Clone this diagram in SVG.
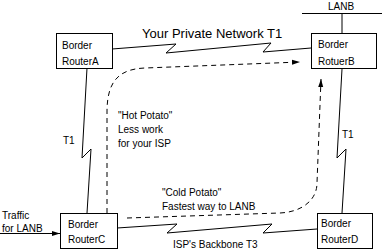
<svg xmlns="http://www.w3.org/2000/svg" width="382" height="250" viewBox="0 0 382 250">
<defs>
<style>
text{font-family:"Liberation Sans",Arial,sans-serif;font-size:10px;fill:#000}
.box{fill:#fff;stroke:#000;stroke-width:1;shape-rendering:crispEdges}
.ln{fill:none;stroke:#000;stroke-width:1}
.dash{fill:none;stroke:#000;stroke-width:1;stroke-dasharray:5,4}
</style>
<marker id="ah" viewBox="0 0 8 6" refX="8" refY="3" markerWidth="8" markerHeight="6" markerUnits="userSpaceOnUse" orient="auto">
<path d="M0,0.5 L8,3 L0,5.5 Z" fill="#000"/>
</marker>
</defs>
<rect width="382" height="250" fill="#fff"/>
<g id="connectors">
<path class="ln" d="M302,13.5 H382 M342,13.5 V33"/>
<path class="ln" d="M112,49 L176,44 L166,53 L271,43 L263,52 L311,48"/>
<path class="ln" d="M87,68 L82,158 L91,149 L87,213"/>
<path class="ln" d="M342,69 L337,158 L346,149 L342,213"/>
<path class="ln" d="M117,228 L177,224 L167,233 L272,224 L263,233 L317,229"/>
<path class="ln" d="M0,233.5 H60" marker-end="url(#ah)"/>
<path class="dash" d="M107,213 L107,112 C107,82 118,69 145,68 L300,62" marker-end="url(#ah)"/>
<path class="dash" d="M127,218 L280,213 C302,212 317,200 317,183 L321,79" marker-end="url(#ah)"/>
</g>
<g id="lanb"><text x="328" y="10">LANB</text></g>
<g id="routerA"><rect class="box" x="56.5" y="33.5" width="56" height="35"/><text x="62" y="49">Border</text><text x="62" y="65">RouterA</text></g>
<g id="routerB"><rect class="box" x="311.5" y="33.5" width="65" height="35"/><text x="318" y="48">Border</text><text x="318" y="65">RotuerB</text></g>
<g id="routerC"><rect class="box" x="60.5" y="213.5" width="57" height="35"/><text x="68" y="228">Border</text><text x="68" y="243">RouterC</text></g>
<g id="routerD"><rect class="box" x="317.5" y="213.5" width="55" height="35"/><text x="321" y="227">Border</text><text x="321" y="243">RouterD</text></g>
<g id="labels">
<text x="142" y="38" style="font-size:13px">Your Private Network T1</text>
<text x="63" y="144">T1</text>
<text x="342" y="138">T1</text>
<text x="118" y="119">"Hot Potato"</text>
<text x="118" y="133">Less work</text>
<text x="118" y="147">for your ISP</text>
<text x="162" y="196">"Cold Potato"</text>
<text x="162" y="210">Fastest way to LANB</text>
<text x="173" y="248">ISP's Backbone T3</text>
<text x="2" y="219">Traffic</text>
<text x="2" y="232">for LANB</text>
</g>
</svg>
